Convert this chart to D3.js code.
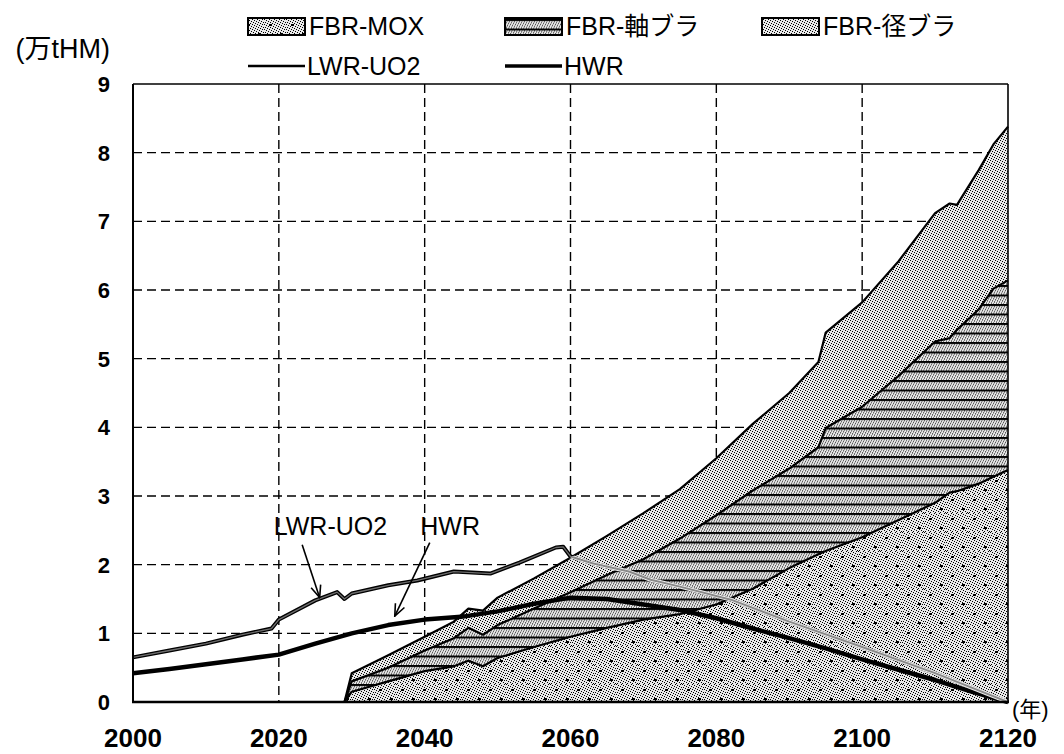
<!DOCTYPE html>
<html>
<head>
<meta charset="utf-8">
<script src="https://cdn.jsdelivr.net/npm/d3@7"></script>
<style>
  body { margin: 0; background: #fff; }
  text { font-family: "Liberation Sans", Arial, "Noto Sans CJK JP", sans-serif; fill: #000; }
</style>
</head>
<body>
<svg id="chart" width="1064" height="754"></svg>
<script>
// ---- data (万tHM) ----
const fbrYears  = [2029,2030,2035,2040,2044,2046,2048,2050,2055,2060,2065,2070,2075,2080,2085,2090,2094,2095,2100,2105,2110,2112,2113,2116,2118,2120];
const fbrMox    = [0,0.15,0.30,0.45,0.52,0.60,0.52,0.64,0.80,0.95,1.08,1.20,1.28,1.42,1.65,1.95,2.15,2.20,2.40,2.65,2.90,3.05,3.07,3.18,3.28,3.38];
const fbrAxial  = [0,0.15,0.20,0.30,0.41,0.48,0.46,0.48,0.56,0.65,0.77,0.88,1.10,1.30,1.43,1.45,1.56,1.79,1.90,2.10,2.35,2.25,2.35,2.54,2.74,2.76];
const fbrRadial = [0,0.12,0.18,0.20,0.24,0.28,0.35,0.40,0.44,0.50,0.57,0.67,0.72,0.83,0.97,1.10,1.24,1.39,1.52,1.67,1.87,1.96,1.82,2.03,2.10,2.24];

const lwrYears = [2000,2005,2010,2015,2019,2020,2025,2028,2029,2030,2035,2039,2044,2049,2053,2058,2059,2060,2063,2068,2071,2075,2082,2090,2100,2110,2120];
const lwrUO2   = [0.65,0.75,0.85,0.98,1.07,1.20,1.48,1.60,1.50,1.58,1.70,1.77,1.90,1.87,2.03,2.25,2.26,2.12,2.02,1.90,1.78,1.68,1.49,1.17,0.80,0.42,0.00];

const hwrYears = [2000,2005,2010,2015,2020,2025,2030,2035,2040,2045,2050,2055,2060,2065,2070,2075,2080,2085,2090,2095,2100,2105,2110,2115,2120];
const hwr      = [0.42,0.48,0.55,0.62,0.69,0.85,1.00,1.12,1.20,1.24,1.32,1.43,1.52,1.50,1.42,1.34,1.22,1.07,0.93,0.78,0.62,0.47,0.32,0.15,0.00];

const xTicks = [2000,2020,2040,2060,2080,2100,2120];
const yTicks = [0,1,2,3,4,5,6,7,8,9];

const seriesKeys   = ['mox','axial','radial'];
const seriesNames  = ['FBR-MOX','FBR-軸ブラ','FBR-径ブラ'];
const lineNames    = ['LWR-UO2','HWR'];

// callouts: label anchor and arrow (year, value)
const callouts = [
  { label: 'LWR-UO2', tx: 2019.3, tv: 2.43, ax: 2023.2, av: 2.29, bx: 2025.6, bv: 1.52 },
  { label: 'HWR',     tx: 2039.4, tv: 2.43, ax: 2040.7, av: 2.32, bx: 2035.9, bv: 1.25 }
];

// ---- layout ----
const svg = d3.select('#chart');
const x = d3.scaleLinear().domain([2000, 2120]).range([133, 1008]);
const y = d3.scaleLinear().domain([0, 9]).range([702, 84]);

// ---- fill patterns ----
const defs = svg.append('defs');
const grain = defs.append('pattern').attr('id', 'grain')
  .attr('patternUnits', 'userSpaceOnUse').attr('width', 5).attr('height', 5);
grain.append('rect').attr('width', 5).attr('height', 5).attr('fill', '#e8e8e8');
[[0,0],[2,1],[4,2],[1,3],[3,4]].forEach(([px, py]) =>
  grain.append('rect').attr('x', px).attr('y', py).attr('width', 1).attr('height', 1).attr('fill', '#000'));

const dots = defs.append('pattern').attr('id', 'dots')
  .attr('patternUnits', 'userSpaceOnUse').attr('width', 22).attr('height', 19);
dots.append('rect').attr('width', 22).attr('height', 19).attr('fill', 'url(#grain)');
[[5,5],[16,14]].forEach(([px, py]) =>
  dots.append('rect').attr('x', px).attr('y', py).attr('width', 3).attr('height', 2).attr('fill', '#000'));

const stripes = defs.append('pattern').attr('id', 'stripes')
  .attr('patternUnits', 'userSpaceOnUse').attr('width', 10).attr('height', 9.5);
stripes.append('rect').attr('width', 10).attr('height', 9.5).attr('fill', 'url(#grain)');
stripes.append('rect').attr('y', 0).attr('width', 10).attr('height', 2).attr('fill', '#000');

const fills = { mox: 'url(#dots)', axial: 'url(#stripes)', radial: 'url(#grain)' };

defs.append('marker').attr('id', 'arrow')
  .attr('viewBox', '0 0 14 12').attr('refX', 13).attr('refY', 6)
  .attr('markerWidth', 14).attr('markerHeight', 12).attr('markerUnits', 'userSpaceOnUse')
  .attr('orient', 'auto')
  .append('path').attr('d', 'M1,1 L13,6 L1,11').attr('fill', 'none')
  .attr('stroke', '#000').attr('stroke-width', 1.6);

// ---- grid ----
const grid = svg.append('g').attr('stroke', '#000').attr('stroke-width', 1.4).attr('stroke-dasharray', '9,5');
grid.selectAll('line.v').data(xTicks.slice(1, -1)).join('line')
  .attr('x1', d => x(d)).attr('x2', d => x(d)).attr('y1', y(9)).attr('y2', y(0));
grid.selectAll('line.h').data(yTicks.slice(1, -1)).join('line')
  .attr('x1', x(2000)).attr('x2', x(2120)).attr('y1', d => y(d)).attr('y2', d => y(d));

// ---- stacked FBR areas ----
const table = fbrYears.map((yr, i) => ({ year: yr, mox: fbrMox[i], axial: fbrAxial[i], radial: fbrRadial[i] }));
const stacked = d3.stack().keys(seriesKeys)(table);

const area = d3.area().x(d => x(d.data.year)).y0(d => y(d[0])).y1(d => y(d[1]));
const topLine = d3.line().x(d => x(d.data.year)).y(d => y(d[1]));

svg.append('g').selectAll('path').data(stacked).join('path')
  .attr('d', area).attr('fill', d => fills[d.key]).attr('shape-rendering', 'crispEdges');
svg.append('g').selectAll('path').data(stacked).join('path')
  .attr('d', topLine).attr('fill', 'none').attr('stroke', '#000').attr('stroke-width', 2.2)
  .attr('stroke-linejoin', 'round');

// region covered by the FBR stack, used to restyle the LWR line where it crosses it
defs.append('clipPath').attr('id', 'fbr-clip').append('path')
  .attr('d', d3.area().x(d => x(d.data.year)).y0(y(0)).y1(d => y(d[1]))(stacked[2]));

// ---- lines ----
const line = d3.line().x(d => x(d[0])).y(d => y(d[1]));
const lwrPts = lwrYears.map((yr, i) => [yr, lwrUO2[i]]);
const hwrPts = hwrYears.map((yr, i) => [yr, hwr[i]]);

svg.append('path').attr('d', line(hwrPts)).attr('fill', 'none')
  .attr('stroke', '#000').attr('stroke-width', 4.5).attr('stroke-linejoin', 'round');

svg.append('path').attr('d', line(lwrPts)).attr('fill', 'none')
  .attr('stroke', '#000').attr('stroke-width', 4).attr('stroke-linejoin', 'round');
svg.append('path').attr('d', line(lwrPts)).attr('fill', 'none')
  .attr('stroke', '#6e6e6e').attr('stroke-width', 1.3).attr('stroke-linejoin', 'round');
const lwrIn = svg.append('g').attr('clip-path', 'url(#fbr-clip)');
lwrIn.append('path').attr('d', line(lwrPts)).attr('fill', 'none')
  .attr('stroke', '#eee').attr('stroke-width', 4).attr('stroke-linejoin', 'round');
lwrIn.append('path').attr('d', line(lwrPts)).attr('fill', 'none')
  .attr('stroke', '#8a8a8a').attr('stroke-width', 2).attr('stroke-linejoin', 'round');

// ---- frame ----
const frame = svg.append('g').attr('stroke', '#000');
frame.append('line').attr('x1', x(2000)).attr('x2', x(2000)).attr('y1', y(9)).attr('y2', y(0)).attr('stroke-width', 2);
frame.append('line').attr('x1', x(2000)).attr('x2', x(2120)).attr('y1', y(9)).attr('y2', y(9)).attr('stroke-width', 1.6);
frame.append('line').attr('x1', x(2120)).attr('x2', x(2120)).attr('y1', y(9)).attr('y2', y(0)).attr('stroke-width', 1.6);
frame.append('line').attr('x1', x(2000) - 1).attr('x2', x(2120) + 1).attr('y1', y(0)).attr('y2', y(0)).attr('stroke-width', 2.6);

// ---- axes labels ----
svg.append('g').selectAll('text').data(yTicks).join('text')
  .attr('x', 110).attr('y', d => y(d) + 8).attr('text-anchor', 'end')
  .attr('font-size', 22).attr('font-weight', 'bold').text(d => d);
svg.append('g').selectAll('text').data(xTicks).join('text')
  .attr('x', d => x(d)).attr('y', 747).attr('text-anchor', 'middle')
  .attr('font-size', 26).attr('font-weight', 'bold').text(d => d);
svg.append('text').attr('x', 110).attr('y', 58).attr('text-anchor', 'end').attr('font-size', 27).text('(万tHM)');
svg.append('text').attr('x', 1012).attr('y', 717).attr('font-size', 22).text('(年)');

// ---- callouts ----
callouts.forEach(c => {
  svg.append('text').attr('x', x(c.tx)).attr('y', y(c.tv)).attr('font-size', 25).text(c.label);
  svg.append('line').attr('x1', x(c.ax)).attr('y1', y(c.av)).attr('x2', x(c.bx)).attr('y2', y(c.bv))
    .attr('stroke', '#000').attr('stroke-width', 1.6).attr('marker-end', 'url(#arrow)');
});

// ---- legend ----
const legendX = [248, 505, 762];
const legend = svg.append('g');
seriesKeys.forEach((k, i) => {
  legend.append('rect').attr('x', legendX[i]).attr('y', 18).attr('width', 57).attr('height', 17)
    .attr('fill', fills[k]).attr('stroke', '#000').attr('stroke-width', 1.2).attr('shape-rendering', 'crispEdges');
  legend.append('text').attr('x', legendX[i] + 61).attr('y', 35).attr('font-size', 25).text(seriesNames[i]);
});
lineNames.forEach((name, i) => {
  legend.append('line').attr('x1', legendX[i]).attr('x2', legendX[i] + 57).attr('y1', 66).attr('y2', 66)
    .attr('stroke', '#000').attr('stroke-width', i === 0 ? 2.6 : 3.6);
  legend.append('text').attr('x', legendX[i] + 59).attr('y', 75).attr('font-size', 25).text(name);
});
</script>
</body>
</html>
